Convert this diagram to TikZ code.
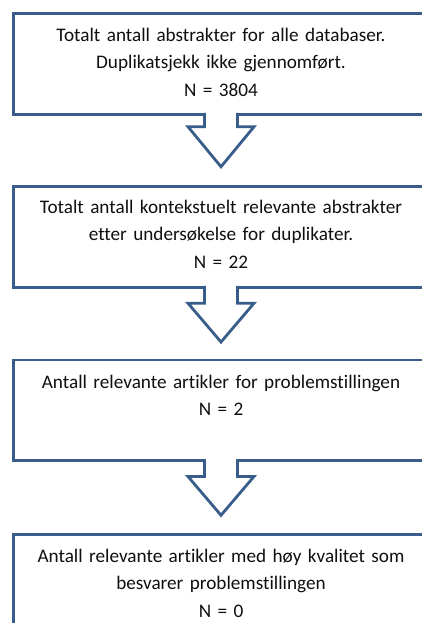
\documentclass[tikz,border=0pt]{standalone}
\usepackage{fontspec}
\setmainfont{Carlito}[Ligatures=NoCommon]
\usetikzlibrary{calc}
\definecolor{boxblue}{RGB}{56,93,138}
\definecolor{textgray}{RGB}{15,15,15}
\begin{document}
\begin{tikzpicture}[x=1pt,y=1pt,
  flowbox/.style={draw=boxblue, line width=2.8pt, minimum width=415pt, minimum height=100.5pt, inner sep=0pt, outer sep=0pt},
  flowtext/.style={anchor=north, inner sep=0pt, outer sep=0pt, align=center, text width=410pt, font=\fontsize{19.2}{27.5}\selectfont, text=textgray},
  flowarrow/.style={draw=boxblue, line width=2.8pt, fill=white, line join=miter}]
\useasboundingbox (0,0) rectangle (422,-623);
\clip (0,0) rectangle (422,-623);
\node[flowbox] (b1) at (221,-64) {};
\node[flowbox] (b2) at (221,-237) {};
\node[flowbox] (b3) at (221,-410.25) {};
\node[flowbox] (b4) at (221,-584.5) {};
\node[flowtext] (t1) at (b1.north) {\rule{0pt}{27.5pt}Totalt antall abstrakter for alle databaser.\\Duplikatsjekk ikke gjennomført.\\N = 3804};
\node[flowtext] (t2) at (b2.north) {\rule{0pt}{26.5pt}Totalt antall kontekstuelt relevante abstrakter\\etter undersøkelse for duplikater.\\N = 22};
\node[flowtext] (t3) at (b3.north) {\rule{0pt}{28pt}Antall relevante artikler for problemstillingen\\N = 2};
\node[flowtext] (t4) at (b4.north) {\rule{0pt}{28pt}Antall relevante artikler med høy kvalitet som\\besvarer problemstillingen\\N = 0};
\draw[flowarrow] ($(b1.south)+(-16.5,1.4)$) -- ($(b1.south)+(-16.5,-12.5)$) -- ($(b1.south)+(-33,-12.5)$) -- ($(b2.north)+(0,20)$) -- ($(b1.south)+(33,-12.5)$) -- ($(b1.south)+(16.5,-12.5)$) -- ($(b1.south)+(16.5,1.4)$);
\draw[flowarrow] ($(b2.south)+(-16.5,1.4)$) -- ($(b2.south)+(-16.5,-16)$) -- ($(b2.south)+(-33,-16)$) -- ($(b3.north)+(0,18)$) -- ($(b2.south)+(33,-16)$) -- ($(b2.south)+(16.5,-16)$) -- ($(b2.south)+(16.5,1.4)$);
\draw[flowarrow] ($(b3.south)+(-16.5,1.4)$) -- ($(b3.south)+(-16.5,-16)$) -- ($(b3.south)+(-33,-16)$) -- ($(b4.north)+(0,19)$) -- ($(b3.south)+(33,-16)$) -- ($(b3.south)+(16.5,-16)$) -- ($(b3.south)+(16.5,1.4)$);
\end{tikzpicture}
\end{document}
